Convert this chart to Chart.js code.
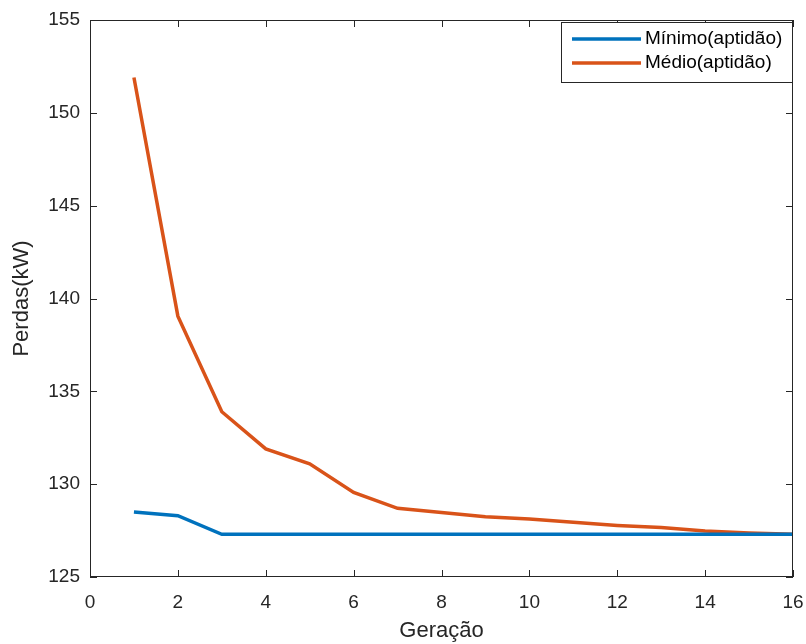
<!DOCTYPE html>
<html>
<head>
<meta charset="utf-8">
<script src="https://cdn.jsdelivr.net/npm/chart.js@4/dist/chart.umd.min.js"></script>
<style>
  html, body { margin: 0; padding: 0; background: #fff; }
  #wrap { width: 806px; height: 644px; }
</style>
</head>
<body>
<div id="wrap"><canvas id="grafico"></canvas></div>
<script>
// Dados
const geracoes = [1, 2, 3, 4, 5, 6, 7, 8, 9, 10, 11, 12, 13, 14, 15, 16];
const minimoAptidao = [128.5, 128.3, 127.3, 127.3, 127.3, 127.3, 127.3, 127.3, 127.3, 127.3, 127.3, 127.3, 127.3, 127.3, 127.3, 127.3];
const medioAptidao = [151.9, 139.05, 133.9, 131.9, 131.1, 129.55, 128.7, 128.47, 128.25, 128.12, 127.95, 127.78, 127.66, 127.48, 127.37, 127.3];
const ticksX = [0, 2, 4, 6, 8, 10, 12, 14, 16];
const ticksY = [125, 130, 135, 140, 145, 150, 155];

const corEixo = '#262626';
const fonte = '"Liberation Sans", Arial, sans-serif';

function pontos(valores) {
    return geracoes.map((g, i) => ({ x: g, y: valores[i] }));
}

// Moldura e marcas internas estilo MATLAB
const molduraPlugin = {
    id: 'moldura',
    afterDraw(chart) {
        const ctx = chart.ctx;
        const a = chart.chartArea;
        const sx = chart.scales.x;
        const sy = chart.scales.y;
        ctx.save();
        ctx.strokeStyle = corEixo;
        ctx.lineWidth = 1;
        ctx.strokeRect(a.left + 0.5, a.top + 0.5, a.right - a.left - 1, a.bottom - a.top - 1);
        ctx.beginPath();
        ticksX.forEach(v => {
            const px = Math.round(sx.getPixelForValue(v)) + 0.5;
            ctx.moveTo(px, a.bottom); ctx.lineTo(px, a.bottom - 7);
            ctx.moveTo(px, a.top); ctx.lineTo(px, a.top + 7);
        });
        ticksY.forEach(v => {
            const py = Math.round(sy.getPixelForValue(v)) + 0.5;
            ctx.moveTo(a.left, py); ctx.lineTo(a.left + 7, py);
            ctx.moveTo(a.right, py); ctx.lineTo(a.right - 7, py);
        });
        ctx.stroke();

        // Legenda dentro da área do gráfico
        const bx = a.right - 232, by = a.top + 2, bw = 231, bh = 60;
        ctx.fillStyle = '#fff';
        ctx.fillRect(bx, by, bw, bh);
        ctx.strokeRect(bx + 0.5, by + 0.5, bw, bh);
        ctx.font = '19px ' + fonte;
        ctx.textBaseline = 'middle';
        chart.data.datasets.forEach((ds, i) => {
            const ly = by + 17 + i * 24;
            ctx.strokeStyle = ds.borderColor;
            ctx.lineWidth = 3.5;
            ctx.beginPath();
            ctx.moveTo(bx + 11, ly); ctx.lineTo(bx + 80, ly);
            ctx.stroke();
            ctx.fillStyle = '#000';
            ctx.fillText(ds.label, bx + 84, ly);
        });
        ctx.restore();
    }
};

new Chart(document.getElementById('grafico'), {
    type: 'line',
    data: {
        datasets: [{
            label: 'Mínimo(aptidão)',
            data: pontos(minimoAptidao),
            borderColor: '#0072BD',
            borderWidth: 3.5,
            pointRadius: 0,
            tension: 0
        }, {
            label: 'Médio(aptidão)',
            data: pontos(medioAptidao),
            borderColor: '#D95319',
            borderWidth: 3.5,
            pointRadius: 0,
            tension: 0
        }]
    },
    options: {
        responsive: true,
        maintainAspectRatio: false,
        animation: false,
        layout: { padding: { top: 20, right: 13, left: 0, bottom: 0 } },
        plugins: {
            legend: { display: false },
            tooltip: { enabled: false }
        },
        scales: {
            x: {
                type: 'linear',
                min: 0,
                max: 16,
                afterFit: s => { s.height = 67; s.paddingLeft = 0; s.paddingRight = 0; },
                afterBuildTicks: s => { s.ticks = ticksX.map(v => ({ value: v })); },
                grid: { display: false },
                border: { display: false },
                ticks: { color: corEixo, font: { family: fonte, size: 19 }, padding: 6, maxRotation: 0 },
                title: { display: true, text: 'Geração', color: corEixo, font: { family: fonte, size: 22 }, padding: { top: -5, bottom: 0 } }
            },
            y: {
                min: 125,
                max: 155,
                afterFit: s => { s.width = 90; s.paddingTop = 0; s.paddingBottom = 0; },
                afterBuildTicks: s => { s.ticks = ticksY.map(v => ({ value: v })); },
                grid: { display: false },
                border: { display: false },
                ticks: { color: corEixo, font: { family: fonte, size: 19 }, padding: 2 },
                title: { display: true, text: 'Perdas(kW)', color: corEixo, font: { family: fonte, size: 22 }, padding: { top: 9, bottom: 0 } }
            }
        }
    },
    plugins: [molduraPlugin]
});
</script>
</body>
</html>
